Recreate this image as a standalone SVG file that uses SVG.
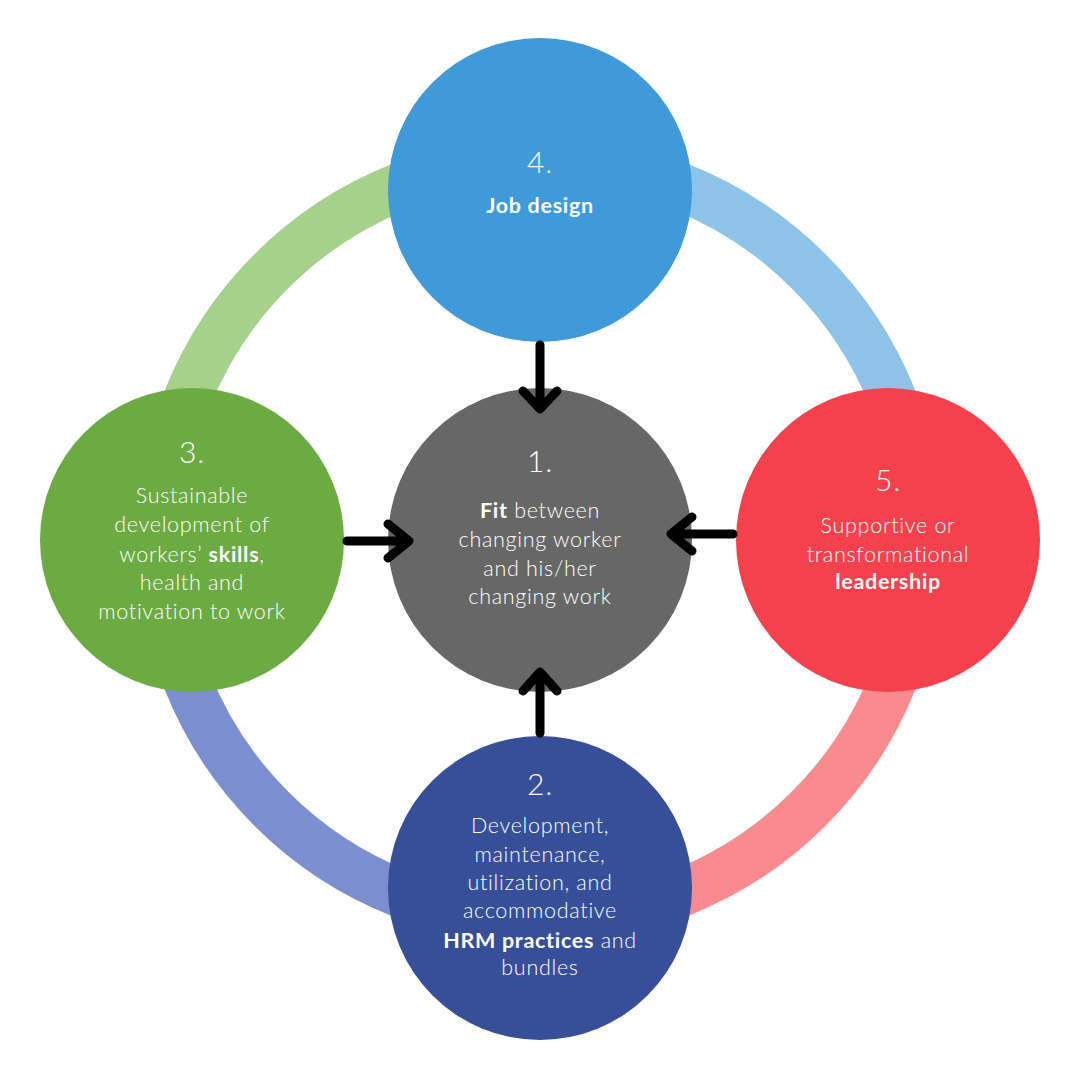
<svg xmlns="http://www.w3.org/2000/svg" width="1080" height="1080" viewBox="0 0 1080 1080">
<style>
.ring{fill:none;stroke-width:48}
.t{font-family:Lato,"Noto Sans","Liberation Sans",sans-serif;fill:#ffffff;text-anchor:middle;font-weight:300;font-size:21.5px;letter-spacing:0.7px}
.n{font-size:30px}
.b{font-weight:700}
.arr{fill:none;stroke:#000;stroke-width:9;stroke-linecap:round;stroke-linejoin:round}
</style>
<rect width="1080" height="1080" fill="#ffffff"/>
<g id="ring">
<path class="ring" stroke="#A6D18A" d="M160,540 A380,380 0 0 1 540,160"/>
<path class="ring" stroke="#8EC3E8" d="M540,160 A380,380 0 0 1 920,540"/>
<path class="ring" stroke="#F98B8F" d="M920,540 A380,380 0 0 1 540,920"/>
<path class="ring" stroke="#7A8ED0" d="M540,920 A380,380 0 0 1 160,540"/>
</g>
<g id="node1">
<circle cx="540" cy="540" r="152" fill="#676767"/>
<text class="t n" x="540" y="472">1.</text>
<text class="t" x="540" y="518"><tspan class="b">Fit</tspan> between</text>
<text class="t" x="540" y="547">changing worker</text>
<text class="t" x="540" y="576">and his/her</text>
<text class="t" x="540" y="604">changing work</text>
</g>
<g id="node4">
<circle cx="540" cy="190" r="152" fill="#3E9AD8"/>
<text class="t n" x="540" y="173">4.</text>
<text class="t b" x="540" y="213">Job design</text>
</g>
<g id="node3">
<circle cx="192" cy="540" r="152" fill="#6CAA42"/>
<text class="t n" x="192" y="463">3.</text>
<text class="t" x="192" y="503">Sustainable</text>
<text class="t" x="192" y="532">development of</text>
<text class="t" x="192" y="562">workers’ <tspan class="b">skills</tspan>,</text>
<text class="t" x="192" y="590">health and</text>
<text class="t" x="192" y="619">motivation to work</text>
</g>
<g id="node5">
<circle cx="888" cy="540" r="152" fill="#F4414C"/>
<text class="t n" x="888" y="491">5.</text>
<text class="t" x="888" y="533">Supportive or</text>
<text class="t" x="888" y="562">transformational</text>
<text class="t b" x="888" y="589">leadership</text>
</g>
<g id="node2">
<circle cx="540" cy="888" r="152" fill="#364F98"/>
<text class="t n" x="540" y="795">2.</text>
<text class="t" x="540" y="833">Development,</text>
<text class="t" x="540" y="862">maintenance,</text>
<text class="t" x="540" y="890">utilization, and</text>
<text class="t" x="540" y="918">accommodative</text>
<text class="t" x="540" y="948"><tspan class="b">HRM practices</tspan> and</text>
<text class="t" x="540" y="975">bundles</text>
</g>
<g id="connectors">
<path class="arr" d="M540,345 V408 M523,391 L540,409 L557,391"/>
<path class="arr" d="M347,541 H408 M388,524 L409,541 L388,558"/>
<path class="arr" d="M733,534 H672 M692,517 L671,534 L692,551"/>
<path class="arr" d="M540,733 V673 M523,691 L540,672 L557,691"/>
</g>
</svg>
